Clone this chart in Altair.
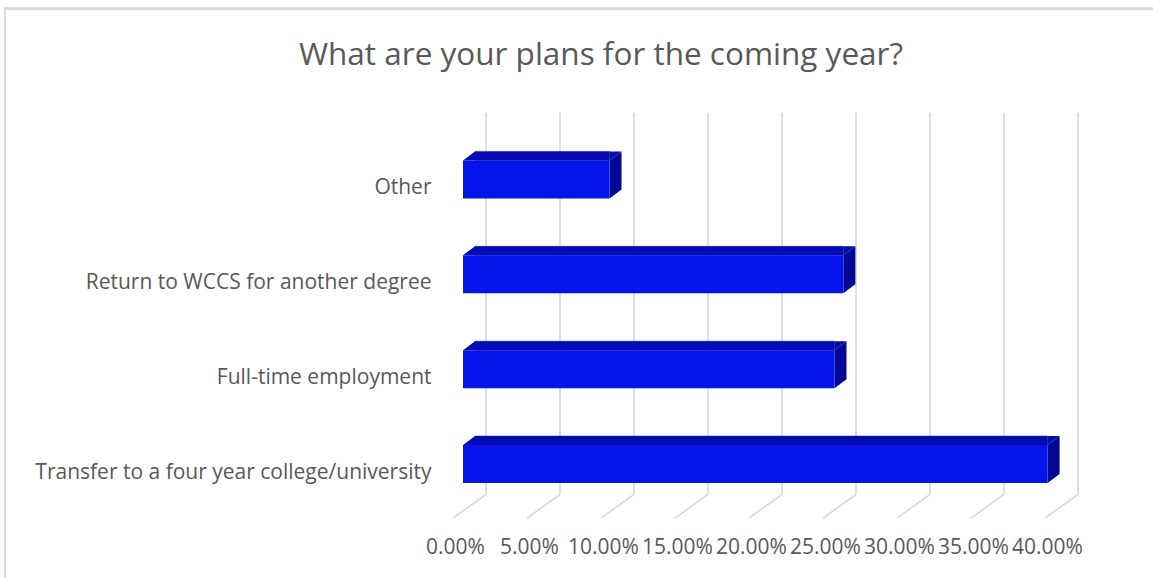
import json
import altair as alt
import pandas as pd

# ---- data ----
categories = [
    "Transfer to a four year college/university",
    "Full-time employment",
    "Return to WCCS for another degree",
    "Other",
]
shares = [0.395, 0.251, 0.257, 0.099]
tick_values = [0.0, 0.05, 0.10, 0.15, 0.20, 0.25, 0.30, 0.35, 0.40]
title_text = "What are your plans for the coming year?"

# ---- styling ----
FRONT = "#0515EA"
TOPC = "#040BB0"
SIDE = "#020894"
GRID = "#D9D9D9"
TEXT = "#595959"
FONT = "Open Sans"

W, H = 592, 408
PAD = {"left": 463, "top": 113, "right": 98, "bottom": 57}
XDOM = [0, 0.40]
YDOM = [-0.6, 3.7]
HALF = 0.2      # half height of the bar front face (category units)
DX = 0.0081     # 3D depth along x (value units) ~ 12 px
DY = 0.0949     # 3D depth along y (category units) ~ 9 px
WALL_TOP, FLOOR_BACK, FLOOR_FRONT = 3.7, -0.32, -0.57

# shapes in pixel units (symbol size 4 -> scale 1)
LEFT_TRI = "M0,0L12,-9L12,0Z"
RIGHT_TRI = "M0,0L0,-9L12,-9Z"
SIDE_FACE = "M0,0L12,-9L12,29L0,38Z"

bars = pd.DataFrame({"cat": categories, "v": shares, "i": range(len(categories))})
bars["x0"] = 0.0
bars["b"] = bars["i"] - HALF
bars["t"] = bars["i"] + HALF
bars["tb"] = bars["t"] + DY
bars["xd"] = DX

grid_df = pd.DataFrame({"x": tick_values})
title_df = pd.DataFrame({"t": [title_text]})

label_expr = json.dumps(categories) + "[datum.value]"

xscale = alt.Scale(domain=XDOM, nice=False, zero=False)
yscale = alt.Scale(domain=YDOM, nice=False, zero=False)

XAXIS = alt.Axis(
    values=tick_values, format=".2%", title=None, grid=False, ticks=False,
    domain=False, labelOverlap=False, labelFlush=False, labelBound=False,
    labelFont=FONT, labelFontSize=21, labelColor=TEXT, labelPadding=15,
    labelOffset=-8,
)
YAXIS = alt.Axis(
    values=[0, 1, 2, 3], labelExpr=label_expr, title=None, grid=False,
    ticks=False, domain=False, labelFont=FONT, labelFontSize=21,
    labelColor=TEXT, labelPadding=32, labelOffset=8, labelLimit=0,
    labelOverlap=False, labelBound=False, labelFlush=False,
)


def xq(f):
    return alt.X(f, type="quantitative", scale=xscale, axis=XAXIS)


def yq(f):
    return alt.Y(f, type="quantitative", scale=yscale, axis=YAXIS)


def yd(v):
    return alt.YDatum(v, type="quantitative", scale=yscale, axis=YAXIS)


border = alt.Chart(grid_df).mark_rect(
    fillOpacity=0, stroke=GRID, strokeWidth=1.5
).encode(
    x=alt.value(-458), x2=alt.value(720), y=alt.value(-104.5), y2=alt.value(500)
)

title = alt.Chart(title_df).mark_text(
    font=FONT, fontSize=31.5, color=TEXT, align="center", baseline="alphabetic"
).encode(x=alt.value(138), y=alt.value(-48.5), text="t:N")

wall = alt.Chart(grid_df).mark_rule(color=GRID, strokeWidth=1.6, xOffset=23).encode(
    x=xq("x"), y=yd(WALL_TOP), y2=alt.datum(FLOOR_BACK)
)
floor = alt.Chart(grid_df).mark_rule(
    color=GRID, strokeWidth=1.6, xOffset=23, x2Offset=-10
).encode(
    x=xq("x"), x2="x:Q", y=yd(FLOOR_BACK), y2=alt.datum(FLOOR_FRONT)
)

base = alt.Chart(bars)
top_core = base.mark_rect(color=TOPC, stroke=TOPC, strokeWidth=0.5).encode(
    x=xq("xd"), x2="v:Q", y=yq("t"), y2="tb:Q"
)
sym = dict(size=4, filled=True, opacity=1, strokeWidth=0.5)
left_tri = base.mark_point(shape=LEFT_TRI, color=TOPC, **sym).encode(x=xq("x0"), y=yq("t"))
right_tri = base.mark_point(shape=RIGHT_TRI, color=TOPC, **sym).encode(x=xq("v"), y=yq("t"))
side_face = base.mark_point(shape=SIDE_FACE, color=SIDE, **sym).encode(x=xq("v"), y=yq("t"))
front = base.mark_rect(color=FRONT).encode(x=xq("x0"), x2="v:Q", y=yq("b"), y2="t:Q")

chart = alt.layer(
    border, title, wall, floor, top_core, left_tri, right_tri, side_face, front
).properties(
    width=W,
    height=H,
    padding=PAD,
    background="white",
    autosize=alt.AutoSizeParams(type="none"),
).configure_view(strokeWidth=0)

chart.save("out.html", embed_options={"renderer": "svg", "actions": False})
